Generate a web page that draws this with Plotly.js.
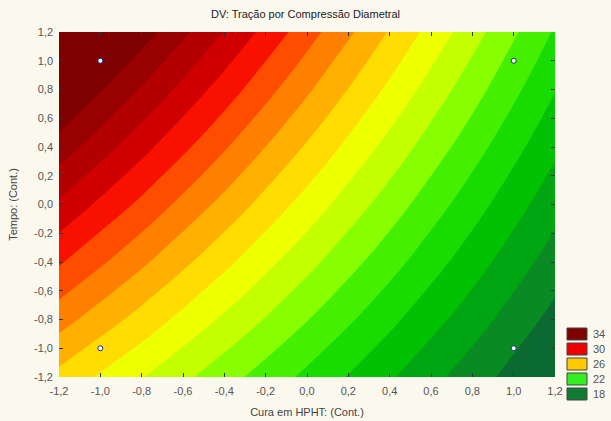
<!DOCTYPE html>
<html>
<head>
<meta charset="utf-8">
<script src="https://cdn.plot.ly/plotly-3.0.1.min.js"></script>
<style>
  html, body { margin: 0; padding: 0; background: #fbf8ee; }
  #chart { width: 611px; height: 421px; }
</style>
</head>
<body>
<div id="chart"></div>
<script>
// ---- data ----
const gridX = [-1.2, -0.8, -0.4, 0, 0.4, 0.8, 1.2];
const gridY = [-1.2, -0.8, -0.4, 0, 0.4, 0.8, 1.2];
// fitted response surface values (rows = gridY, cols = gridX)
const zGrid = [
  [26.69, 25.05, 23.40, 21.76, 20.12, 18.47, 16.83],
  [28.41, 26.62, 24.83, 23.04, 21.25, 19.46, 17.67],
  [30.12, 28.19, 26.25, 24.32, 22.39, 20.45, 18.52],
  [31.84, 29.76, 27.68, 25.60, 23.52, 21.44, 19.36],
  [33.56, 31.33, 29.11, 26.88, 24.65, 22.43, 20.20],
  [35.27, 32.90, 30.53, 28.16, 25.79, 23.42, 21.05],
  [36.99, 34.47, 31.96, 29.44, 26.92, 24.41, 21.89]
];
const levelStart = 18, levelEnd = 34, levelStep = 1;
// band colours from lowest (<18) to highest (>34)
const bandColors = [
  '#0b6a30', '#0a8a22', '#00a612', '#00c202', '#18dc00', '#44f000',
  '#88ff00', '#c4ff00', '#eeff00', '#ffdd00', '#ffb000', '#ff8000',
  '#ff4d00', '#f81000', '#d00000', '#b30000', '#990000', '#7f0000'
];
const designX = [-1, 1, -1, 1];
const designY = [1, 1, -1, -1];
const tickVals = [-1.2, -1.0, -0.8, -0.6, -0.4, -0.2, 0, 0.2, 0.4, 0.6, 0.8, 1.0, 1.2];
const tickText = ['-1,2', '-1,0', '-0,8', '-0,6', '-0,4', '-0,2', '0,0', '0,2', '0,4', '0,6', '0,8', '1,0', '1,2'];
const legendLabels = ['34', '30', '26', '22', '18'];
const legendColors = ['#800000', '#ee0000', '#ffc800', '#33ee22', '#117a33'];

// ---- layout geometry ----
const W = 611, H = 421;
const M = { l: 59, r: 56, t: 32, b: 44 };
const pw = W - M.l - M.r, ph = H - M.t - M.b;
const px2x = px => (px - M.l) / pw;
const px2y = py => (H - M.b - py) / ph;

const nBands = bandColors.length;
const colorscale = bandColors.map((c, i) => [i / (nBands - 1), c]);

const contour = {
  type: 'contour',
  x: gridX, y: gridY, z: zGrid,
  colorscale: colorscale,
  autocontour: false,
  contours: { start: levelStart, end: levelEnd, size: levelStep, coloring: 'fill', showlines: false },
  line: { width: 0, smoothing: 1 },
  showscale: false,
  hoverinfo: 'skip'
};
const pts = {
  type: 'scatter', mode: 'markers',
  x: designX, y: designY,
  marker: { size: 5, color: '#ffffff', line: { color: '#1a2a8a', width: 1 } },
  showlegend: false, hoverinfo: 'skip'
};

const font = { family: 'Liberation Sans, Arial, sans-serif', size: 11, color: '#555' };

const shapes = [], annotations = [];
const boxL = 567, boxR = 587, boxH = 12, boxStep = 15, boxTop0 = 328;
legendLabels.forEach((lab, i) => {
  const top = boxTop0 + i * boxStep;
  shapes.push({
    type: 'rect', xref: 'paper', yref: 'paper',
    x0: px2x(boxL), x1: px2x(boxR), y0: px2y(top + boxH), y1: px2y(top),
    fillcolor: legendColors[i], line: { color: '#444', width: 1 }
  });
  annotations.push({
    xref: 'paper', yref: 'paper', x: px2x(boxR + 4), y: px2y(top + boxH / 2),
    xanchor: 'left', yanchor: 'middle', text: lab, showarrow: false,
    font: { family: font.family, size: 11, color: '#555' }
  });
});

const axisCommon = {
  range: [-1.2, 1.2], tickvals: tickVals, ticktext: tickText,
  ticks: 'inside', ticklen: 4, tickcolor: '#333', mirror: 'ticks',
  showgrid: false, zeroline: false, showline: false,
  tickfont: font
};

const layout = {
  width: W, height: H,
  margin: M,
  paper_bgcolor: '#fbf8ee', plot_bgcolor: '#fbf8ee',
  font: font,
  title: { text: 'DV: Tração por Compressão Diametral', x: 0.5, xanchor: 'center', y: 1 - 14 / H, yanchor: 'middle',
           font: { family: font.family, size: 11, color: '#222' } },
  xaxis: Object.assign({}, axisCommon, {
    ticklabelstandoff: 6,
    title: { text: 'Cura em HPHT: (Cont.)', standoff: 12, font: { family: font.family, size: 11, color: '#444' } }
  }),
  yaxis: Object.assign({}, axisCommon, {
    ticklabelstandoff: 5,
    title: { text: 'Tempo: (Cont.)', standoff: 14, font: { family: font.family, size: 11, color: '#444' } }
  }),
  shapes: shapes,
  annotations: annotations,
  showlegend: false
};

Plotly.newPlot('chart', [contour, pts], layout, { displayModeBar: false, staticPlot: true });
</script>
</body>
</html>
